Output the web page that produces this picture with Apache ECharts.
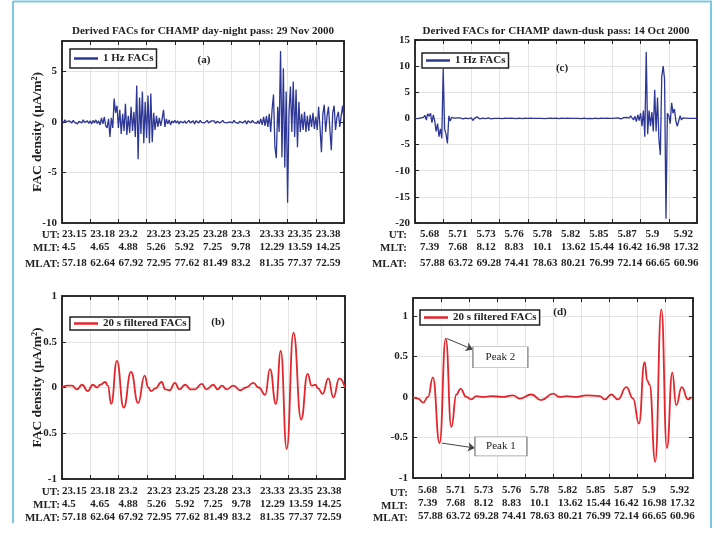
<!DOCTYPE html>
<html>
<head>
<meta charset="utf-8">
<script src="https://cdn.jsdelivr.net/npm/echarts@6/dist/echarts.min.js"></script>
<style>
  html, body { margin: 0; padding: 0; background: #fff; }
  #chart { width: 725px; height: 533px; }
</style>
</head>
<body>
<div id="chart"></div>
<script>
// tick label rows, day-night pass (a, b)
var utDN = ['23.15', '23.18', '23.2', '23.23', '23.25', '23.28', '23.3', '23.33', '23.35', '23.38'];
var mltDN = ['4.5', '4.65', '4.88', '5.26', '5.92', '7.25', '9.78', '12.29', '13.59', '14.25'];
var mlatDN = ['57.18', '62.64', '67.92', '72.95', '77.62', '81.49', '83.2', '81.35', '77.37', '72.59'];
// tick label rows, dawn-dusk pass (c, d)
var utDD = ['5.68', '5.71', '5.73', '5.76', '5.78', '5.82', '5.85', '5.87', '5.9', '5.92'];
var mltDD = ['7.39', '7.68', '8.12', '8.83', '10.1', '13.62', '15.44', '16.42', '16.98', '17.32'];
var mlatDD = ['57.88', '63.72', '69.28', '74.41', '78.63', '80.21', '76.99', '72.14', '66.65', '60.96'];

// 1 Hz FACs, read every 0.05 tick-unit from x=0 to x=10
var facA = [
  0.1, -0.1, 0.2, 0, -0.15, 0.1, 0.05, -0.1, 0.15, -0.05, 0.1, -0.2, 0.05, 0.1, -0.1, 0.2, -0.05, 0, 0.1, -0.15,
  0.1, -0.2, 0.15, -0.1, 0.2, -0.15, 0.1, -0.3, 0.4, -0.2, 0.5, -0.4, -0.6, 0.3, -1.5, 0.4, -0.6, 2.3, 0.9, 1.6,
  -0.6, 1.2, -1.2, 0.8, -0.9, 1.8, -1.3, 0.6, -1.1, 1.5, -0.9, 1.0, -1.5, 3.6, -3.7, 2.4, -1.2, 3.0, -2.1, 2.0,
  -1.6, 2.6, -2.1, 2.8, -2.0, 0.9, -0.8, 0.6, -0.5, 0.4, -0.4, 0.3, 1.2, -0.5, 0.3, -0.2, 0.2, -0.3, 0.1, -0.1,
  0.15, -0.1, 0.1, -0.2, 0.05, 0.2, -0.1, 0.1, -0.15, 0, 0.15, -0.1, 0.05, 0.1, -0.2, 0.1, 0, -0.1, 0.15, -0.05,
  0.1, -0.1, 0.05, 0.15, -0.1, 0, 0.1, -0.05, 0.1, -0.15, 0.05, 0.1, -0.1, 0, 0.15, -0.05, 0.1, -0.1, 0.05, 0,
  0.1, -0.1, 0.15, -0.05, 0.1, -0.15, 0.05, 0.2, -0.1, 0.05, 0.1, -0.2, 0.1, 0, -0.1, 0.15, -0.05, 0.1, -0.15, 0.1,
  -0.2, 0.3, -0.3, 0.5, -0.4, 0.6, -0.5, 0.8, -1.0, 1.2, 2.7, -2.5, -3.6, 1.5, -1.0, 7.0, -3.5, 5.3, -4.5, 3.0,
  -8.0, 1.0, 3.5, -1.0, 4.0, -1.5, 3.2, -2.5, 2.0, -1.0, 0.8, -0.8, 1.0, -1.0, 0.6, -0.9, 0.7, -0.5, 0.9, -0.7,
  0.5, -0.8, 1.5, -0.6, -3.0, 0.8, 1.7, -1.0, 0.6, 1.5, -0.8, -2.8, 0.9, 1.6, -0.8, 0.5, 1.0, -0.5, 0.6, 1.6,
  0.2
];
var facC = [
  0, 0.05, -0.05, 0, 0.1, 0, 0.2, 0.6, -0.3, 0.9, 0.4, 1.0, -0.8, 0.7, -0.5, -2.5, -1.0, -3.5, -2.0, -3.8,
  9.5, -2.0, -3.0, -4.8, 0.5, -0.5, 0.2, 0, 0.05, 0, 0.1, 0.3, 0.1, 0, -0.1, 0, 0.05, 0, -0.05, 0,
  0.1, -0.4, 0, 0.1, 0.3, 0, -0.1, 0, 0.05, 0, -0.05, 0, 0.1, 0, -0.1, 0.05, 0, 0.1, 0, -0.05,
  0, 0.05, -0.05, 0, 0.05, 0, 0, -0.05, 0.05, 0, 0, 0.05, -0.05, 0, 0.05, 0, -0.05, 0, 0.05, 0,
  0, -0.05, 0.05, 0, 0, 0.05, 0, -0.05, 0, 0.05, 0, 0, -0.05, 0.05, 0, 0, 0.05, -0.05, 0, 0,
  0.05, 0, -0.05, 0, 0.05, 0, 0, -0.05, 0.05, 0, 0, 0.05, 0, -0.05, 0, 0.05, 0, 0, -0.05, 0,
  0.05, 0, -0.05, 0.05, 0, 0, -0.05, 0, 0.05, 0, -0.05, 0, 0.05, 0, 0, -0.05, 0.05, 0, 0, 0.05,
  0, -0.05, 0.05, 0, 0.1, 0, -0.1, 0.05, 0.15, -0.1, 0.2, 0.3, 0.1, 0.5, 0.2, -0.3, 0.4, -0.6, 0.7, -0.4,
  1.0, -1.5, 1.5, -3.5, 12.7, -3.0, 1.5, -1.5, 1.2, -2.5, 5.5, -2.5, 4.0, -4.0, -7.0, 8.0, 10.0, 7.5, -19.2, 1.0,
  0.5, -1.0, 3.0, 1.0, 1.8, -0.5, -1.5, -1.5, 0.5, -0.3, 0.1, 0, 0.05, 0, 0, -0.05, 0, 0.05, 0, 0,
  0
];

// 20 s filtered FACs, read at turning points (x in tick units)
var filtBx = [0, 0.18, 0.35, 0.53, 0.71, 0.91, 1.09, 1.24, 1.35, 1.53, 1.62, 1.74, 1.94, 2.18, 2.44, 2.69, 2.92,
  3.05, 3.15, 3.3, 3.52, 3.65, 3.8, 3.99, 4.15, 4.35, 4.55, 4.7, 4.94, 5.1, 5.35, 5.5, 5.65, 5.82, 6.06, 6.3, 6.5,
  6.76, 6.95, 7.18, 7.35, 7.56, 7.73, 7.94, 8.18, 8.45, 8.68, 8.82, 8.95, 9.05, 9.21, 9.41, 9.59, 9.8, 10];
var filtBy = [0, 0.02, 0.02, -0.02, 0.03, -0.04, 0.03, 0, 0.03, 0.06, 0.02, -0.18, 0.29, -0.22, 0.17, -0.17, 0.13,
  0, -0.04, -0.01, 0.06, -0.02, -0.03, 0.05, -0.02, 0.03, -0.02, -0.02, 0.04, -0.02, 0.03, -0.02, 0.02, -0.02, 0.02, -0.03, 0,
  0.05, 0, -0.08, 0.2, -0.18, 0.4, -0.67, 0.6, -0.35, 0.15, 0.02, 0.03, -0.01, -0.07, 0.1, -0.11, 0.1, 0];
var filtDx = [0, 0.18, 0.36, 0.54, 0.71, 0.95, 1.17, 1.37, 1.55, 1.7, 1.9, 2.08, 2.26, 2.5, 2.8, 3.21, 3.57, 3.81,
  4.23, 4.58, 5.0, 5.24, 5.48, 5.83, 6.19, 6.67, 6.85, 7.08, 7.32, 7.62, 7.86, 8.07, 8.27, 8.37, 8.45, 8.65, 8.87,
  9.07, 9.26, 9.4, 9.6, 9.82, 9.94];
var filtDy = [0, -0.02, -0.07, 0, 0.24, -0.57, 0.72, -0.37, 0.03, 0.1, 0, -0.03, 0.01, 0, 0.01, 0, 0.02, -0.02,
  0.03, -0.04, 0.04, 0, 0.01, 0, 0.02, 0.01, -0.03, 0.03, -0.03, 0.12, -0.02, -0.33, 0.43, 0.2, 0.15, -0.8, 1.08,
  -0.63, 0.3, -0.1, 0.12, -0.03, 0];

var serif = "'Liberation Serif', 'Times New Roman', serif";
var ink = '#222';
var blue = '#2d3796';
var red = '#e3262b';
var step = 0.05;

function sampled (vals) {
  return vals.map(function (v, i) { return [+(i * step).toFixed(2), v]; });
}
function zip (xs, ys) {
  return xs.map(function (x, i) { return [x, ys[i]]; });
}

// panel order: 0 = (a), 1 = (c), 2 = (b), 3 = (d)
var grids = [
  {left: 62, top: 41, width: 282, height: 182},
  {left: 415, top: 40, width: 282, height: 183},
  {left: 62, top: 296, width: 283, height: 183},
  {left: 413, top: 298, width: 280, height: 180}
];
var rows = [[utDN, mltDN, mlatDN], [utDD, mltDD, mlatDD], [utDN, mltDN, mlatDN], [utDD, mltDD, mlatDD]];

function mainX (g) {
  var top = g < 2;
  var r = rows[g];
  return {
    type: 'value', gridIndex: g, min: 0, max: 10, interval: 1,
    axisLine: {show: true, onZero: false, lineStyle: {color: ink, width: 1.5}},
    axisTick: {show: true, inside: true, length: 4, lineStyle: {color: ink}},
    splitLine: {show: true, showMinLine: false, showMaxLine: false, lineStyle: {color: '#e4e4e4'}},
    axisLabel: {
      show: true, align: 'left', margin: top ? 5 : 6,
      padding: g % 2 ? [0, 0, 0, 5] : 0,
      formatter: function (v) {
        var k = Math.round(v);
        if (k > 9) return '';
        return '{u|' + r[0][k] + '}\n{m|' + r[1][k] + '}\n{l|' + r[2][k] + '}';
      },
      rich: {
        u: {fontFamily: serif, fontWeight: 'bold', fontSize: 11, color: ink, lineHeight: 13},
        m: {fontFamily: serif, fontWeight: 'bold', fontSize: 11, color: ink, lineHeight: 13},
        l: {fontFamily: serif, fontWeight: 'bold', fontSize: 11, color: ink, lineHeight: top ? 19 : 13}
      }
    }
  };
}
function frameX (g) {
  return {
    type: 'value', gridIndex: g, position: 'top', min: 0, max: 10, interval: 1,
    axisLine: {show: true, onZero: false, lineStyle: {color: ink, width: 1.5}},
    axisTick: {show: true, inside: true, length: 4, lineStyle: {color: ink}},
    axisLabel: {show: false}, splitLine: {show: false}
  };
}
var yRange = [[-10, 8, 5], [-20, 15, 5], [-1, 1, 0.5], [-1, 1.22, 0.5]];
function mainY (g) {
  var y = {
    type: 'value', gridIndex: g, min: yRange[g][0], max: yRange[g][1], interval: yRange[g][2],
    axisLine: {show: true, onZero: false, lineStyle: {color: ink, width: 1.5}},
    axisTick: {show: true, inside: true, length: 4, lineStyle: {color: ink}},
    splitLine: {show: true, showMinLine: false, showMaxLine: false, lineStyle: {color: '#e4e4e4'}},
    axisLabel: {
      fontFamily: serif, fontWeight: 'bold', fontSize: 11, color: ink, margin: 5,
      showMaxLabel: g === 0 || g === 3 ? false : true
    }
  };
  if (g % 2 === 0) {
    y.name = 'FAC density (\u03bcA/m\u00b2)';
    y.nameLocation = 'middle';
    y.nameGap = 17;
    y.nameMoveOverlap = false;
    y.nameTextStyle = {fontFamily: serif, fontWeight: 'bold', fontSize: 13.5, color: ink};
  }
  return y;
}
function frameY (g) {
  return {
    type: 'value', gridIndex: g, position: 'right', min: yRange[g][0], max: yRange[g][1], interval: yRange[g][2],
    axisLine: {show: true, onZero: false, lineStyle: {color: ink, width: 1.5}},
    axisTick: {show: true, inside: true, length: 4, lineStyle: {color: ink}},
    axisLabel: {show: false}, splitLine: {show: false}
  };
}

var textBold = {fontFamily: serif, fontWeight: 'bold', fontSize: 11, color: ink};
function legendAt (name, left, top, pad) {
  return {
    data: [{name: name, icon: 'rect'}], left: left, top: top, orient: 'horizontal', selectedMode: false,
    itemWidth: 24, itemHeight: 2.5, padding: pad,
    borderColor: ink, borderWidth: 1.5, borderRadius: 0, backgroundColor: '#fff',
    textStyle: textBold
  };
}
function rowHeads (right, ys) {
  return ['UT:', 'MLT:', 'MLAT:'].map(function (t, i) {
    return {
      type: 'text', x: right, y: ys[i],
      style: {text: t, align: 'right', verticalAlign: 'middle', textAlign: 'right', textVerticalAlign: 'middle',
        font: 'bold 11px ' + serif, fill: ink}
    };
  });
}
var frameColor = '#7cc7e6';

var chart = echarts.init(document.getElementById('chart'));
var option = {
  backgroundColor: '#fff',
  animation: false,
  title: [
    {text: 'Derived FACs for CHAMP day-night pass: 29 Nov 2000', left: 203, top: 26, textAlign: 'center', padding: 0,
      textStyle: {fontFamily: serif, fontWeight: 'bold', fontSize: 11, color: ink}},
    {text: 'Derived FACs for CHAMP dawn-dusk pass: 14 Oct 2000', left: 556, top: 26, textAlign: 'center', padding: 0,
      textStyle: {fontFamily: serif, fontWeight: 'bold', fontSize: 11, color: ink}},
    {text: '(a)', left: 204, top: 55, textAlign: 'center', padding: 0, textStyle: textBold},
    {text: '(c)', left: 562, top: 63, textAlign: 'center', padding: 0, textStyle: textBold},
    {text: '(b)', left: 218, top: 317, textAlign: 'center', padding: 0, textStyle: textBold},
    {text: '(d)', left: 560, top: 307, textAlign: 'center', padding: 0, textStyle: textBold}
  ],
  legend: [
    legendAt('1 Hz FACs', 70, 49, [4, 3, 4, 4]),
    legendAt('1 Hz FACs', 422, 53, [2, 3, 2, 4]),
    legendAt('20 s filtered FACs', 70, 317, [1, 3, 1, 4]),
    legendAt('20 s filtered FACs', 420, 310, [2, 3, 2, 4])
  ],
  grid: grids.map(function (g) {
    return {left: g.left, top: g.top, width: g.width, height: g.height, show: true,
      borderColor: ink, borderWidth: 1.5, backgroundColor: '#fff'};
  }),
  xAxis: [mainX(0), mainX(1), mainX(2), mainX(3), frameX(0), frameX(1), frameX(2), frameX(3)],
  yAxis: [mainY(0), mainY(1), mainY(2), mainY(3), frameY(0), frameY(1), frameY(2), frameY(3)],
  series: [
    {name: '1 Hz FACs', type: 'line', xAxisIndex: 0, yAxisIndex: 0, symbol: 'none',
      lineStyle: {color: blue, width: 1.3}, itemStyle: {color: blue}, data: sampled(facA)},
    {name: '1 Hz FACs', type: 'line', xAxisIndex: 1, yAxisIndex: 1, symbol: 'none',
      lineStyle: {color: blue, width: 1.3}, itemStyle: {color: blue}, data: sampled(facC)},
    {name: '20 s filtered FACs', type: 'line', xAxisIndex: 2, yAxisIndex: 2, symbol: 'none',
      smooth: 0.5, smoothMonotone: 'x',
      lineStyle: {color: red, width: 1.8}, itemStyle: {color: red}, data: zip(filtBx, filtBy)},
    {name: '20 s filtered FACs', type: 'line', xAxisIndex: 3, yAxisIndex: 3, symbol: 'none',
      smooth: 0.5, smoothMonotone: 'x',
      lineStyle: {color: red, width: 1.8}, itemStyle: {color: red}, data: zip(filtDx, filtDy),
      markLine: {
        silent: true, symbol: ['none', 'arrow'], symbolSize: 7,
        lineStyle: {color: '#444', width: 1, type: 'solid'}, label: {show: false},
        data: [
          [{coord: [1.21, 0.72]}, {coord: [2.14, 0.585]}],
          [{coord: [1.04, -0.57]}, {coord: [2.21, -0.63]}]
        ]
      },
      markPoint: {
        silent: true, symbol: 'rect',
        itemStyle: {color: '#fff', borderColor: '#999', borderWidth: 1},
        label: {show: true, position: 'inside', color: ink, fontFamily: serif, fontSize: 11},
        data: [
          {coord: [3.12, 0.49], symbolSize: [55, 21], label: {formatter: 'Peak 2'}},
          {coord: [3.14, -0.61], symbolSize: [52, 19], label: {formatter: 'Peak 1'}}
        ]
      }
    }
  ],
  graphic: [
    {type: 'line', shape: {x1: 13, y1: 1.5, x2: 712, y2: 1.5}, style: {stroke: frameColor, lineWidth: 2}},
    {type: 'line', shape: {x1: 13, y1: 1, x2: 13, y2: 523}, style: {stroke: frameColor, lineWidth: 2}},
    {type: 'line', shape: {x1: 711, y1: 1, x2: 711, y2: 528}, style: {stroke: frameColor, lineWidth: 2}}
  ].concat(rowHeads(60, [235, 248, 264]), rowHeads(407, [235, 248, 264]),
    rowHeads(60, [492, 505, 518]), rowHeads(408, [493, 506, 518]))
};
chart.setOption(option);
</script>
</body>
</html>
